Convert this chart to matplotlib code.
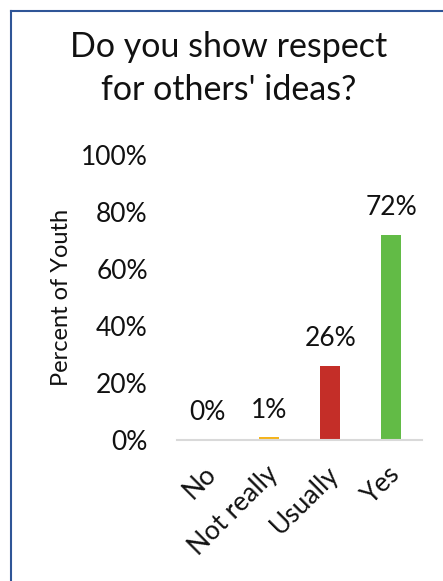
import matplotlib
matplotlib.use("Agg")
import matplotlib.pyplot as plt
from matplotlib.lines import Line2D
from matplotlib.transforms import ScaledTranslation

plt.rcParams['font.family'] = ['Lato', 'DejaVu Sans']

categories = ["No", "Not really", "Usually", "Yes"]
percents = [0.3, 1, 26, 72]  # percent of youth
bar_colors = ["#264478", "#F5B41C", "#C42E28", "#62BB46"]
yticks = [0, 20, 40, 60, 80, 100]
title_lines = ["Do you show respect", "for others' ideas?"]

fig = plt.figure(figsize=(4.43, 5.81), dpi=100)
ax = fig.add_axes([177 / 443, 141 / 581, 245 / 443, 285 / 581])

x = range(len(categories))
ax.bar(x, percents, width=0.33, color=bar_colors)

# data labels above bars
for i, v in enumerate(percents):
    ax.annotate("%d%%" % round(v), (i, v), xytext=(0, 14), textcoords="offset points",
                ha="center", va="baseline", fontsize=19, color="#111111")

ax.set_xlim(-0.5, len(categories) - 0.5)
ax.set_ylim(0, 100)
ax.set_yticks(yticks)
ax.set_yticklabels(["%d%%" % t for t in yticks], fontsize=19, color="#111111")
ax.set_xticks(list(x))
ax.set_xticklabels(categories, rotation=45, ha="right", va="top",
                   rotation_mode="anchor", fontsize=19, color="#111111")
ax.tick_params(axis="y", length=0, pad=21)
ax.tick_params(axis="x", length=0, pad=15)
shift = ScaledTranslation(-0.04, 0, fig.dpi_scale_trans)
for lab in ax.get_xticklabels():
    lab.set_transform(lab.get_transform() + shift)

for s in ["top", "right", "left"]:
    ax.spines[s].set_visible(False)
ax.spines["bottom"].set_color("#D9D9D9")
ax.spines["bottom"].set_linewidth(1.5)

fig.text(61 / 443, 1 - 297 / 581, "Percent of Youth", rotation=90,
         ha="center", va="center", fontsize=17, color="#111111")
fig.text(229 / 443, 1 - 57 / 581, title_lines[0],
         ha="center", va="baseline", fontsize=24.5, color="#111111")
fig.text(229 / 443, 1 - 100 / 581, title_lines[1],
         ha="center", va="baseline", fontsize=24.5, color="#111111")

# chart frame (only left and top edges are visible in the crop)
fig.add_artist(Line2D([10.5 / 443, 10.5 / 443], [0, 1 - 10.5 / 581], color="#2F5597", lw=1.5))
fig.add_artist(Line2D([10.5 / 443, 1], [1 - 10.5 / 581, 1 - 10.5 / 581], color="#2F5597", lw=1.5))

fig.savefig("out.png", dpi=100)
